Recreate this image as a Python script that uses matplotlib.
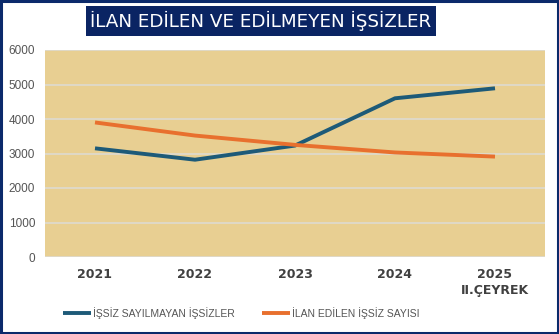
import numpy as np
import matplotlib.pyplot as plt
from matplotlib.patches import Rectangle

# veriler
years = ['2021', '2022', '2023', '2024', '2025\nII.ÇEYREK']
sayilmayan = [3150, 2820, 3230, 4600, 4890]
ilan_edilen = [3900, 3520, 3250, 3030, 2910]

W, H = 559, 334
fig = plt.figure(figsize=(W / 100, H / 100), dpi=100)
fig.patch.set_facecolor('white')

# dış çerçeve
fig.patches.append(Rectangle((0.002, 0.003), 0.996, 0.994, transform=fig.transFigure,
                             fill=False, edgecolor='#0b2a6b', linewidth=2.2))

ax = fig.add_axes([45 / W, 1 - 257 / H, 500 / W, 207 / H])
ax.set_facecolor('#e8cf92')

x = np.arange(len(years))
ax.plot(x, sayilmayan, color='#1d5a78', linewidth=2.8, label='İŞSİZ SAYILMAYAN İŞSİZLER',
        solid_capstyle='butt')
ax.plot(x, ilan_edilen, color='#e8702e', linewidth=2.8, label='İLAN EDİLEN İŞSİZ SAYISI',
        solid_capstyle='butt')

ax.set_xlim(-0.5, len(years) - 0.5)
ax.set_ylim(0, 6000)
ax.set_yticks(range(0, 6001, 1000))
ax.yaxis.grid(True, color='#dedbd0', linewidth=1.2)
ax.set_axisbelow(True)
for s in ax.spines.values():
    s.set_visible(False)
ax.tick_params(length=0)
ax.tick_params(axis='y', labelsize=8.5, labelcolor='#555555', pad=7)
ax.set_xticks(x)
ax.set_xticklabels(years, fontsize=9, fontweight='bold', color='#404040',
                   family='DejaVu Sans', linespacing=1.3)
ax.tick_params(axis='x', pad=8)
for lab in ax.get_yticklabels():
    lab.set_family('Liberation Sans')

leg = fig.legend(loc='center', bbox_to_anchor=(241 / W, 1 - 313 / H), ncol=2, frameon=False,
                 handlelength=2.7, handletextpad=0.2, columnspacing=2.6,
                 prop={'family': 'Liberation Sans', 'size': 7.5})
for t in leg.get_texts():
    t.set_color('#555555')

# başlık
fig.text(261 / W, 1 - 21 / H, 'İLAN EDİLEN VE EDİLMEYEN İŞSİZLER', ha='center', va='center',
         fontsize=13.2, color='white', family='DejaVu Sans',
         bbox=dict(boxstyle='square,pad=0.25', facecolor='#0a2463', edgecolor='none'))

fig.savefig('out.png', dpi=100)
